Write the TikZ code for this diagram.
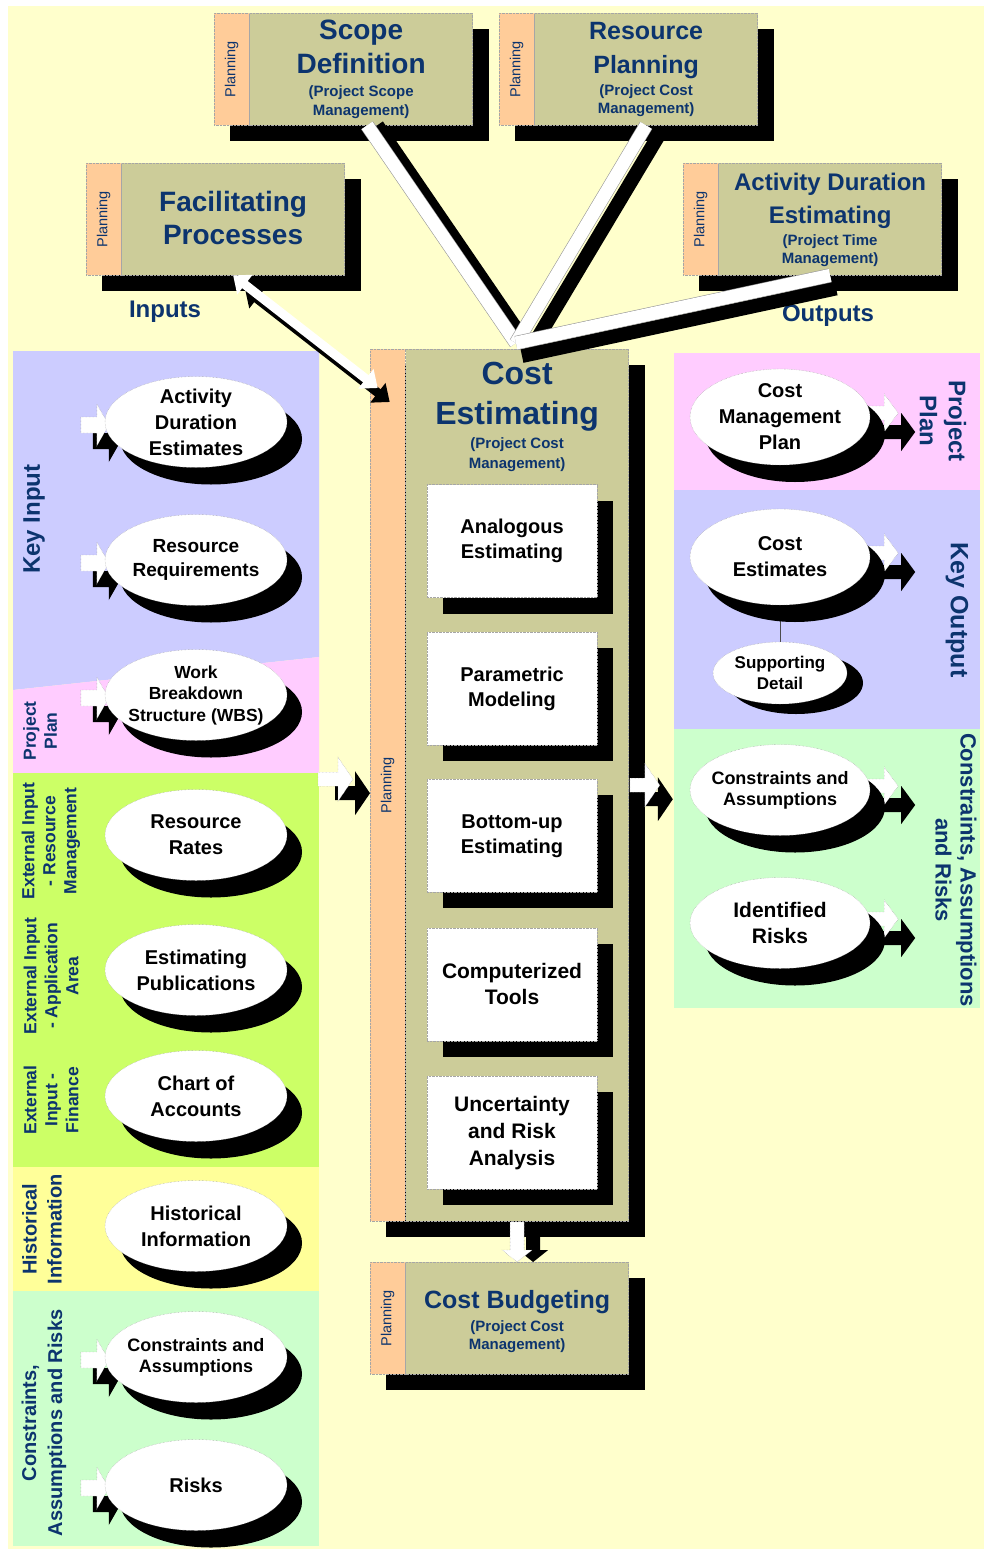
\documentclass[tikz,border=0pt]{standalone}
\usepackage{fontspec}
\setmainfont{Liberation Sans}
\usetikzlibrary{positioning,shapes.geometric,shadows,arrows.meta}

\definecolor{paper}{RGB}{255,255,204}
\definecolor{olive}{RGB}{204,204,153}
\definecolor{salmon}{RGB}{255,204,153}
\definecolor{lilac}{RGB}{204,204,255}
\definecolor{rose}{RGB}{255,204,255}
\definecolor{lime}{RGB}{204,255,102}
\definecolor{lemon}{RGB}{255,255,153}
\definecolor{mint}{RGB}{204,255,204}
\definecolor{navy}{RGB}{12,52,110}

\pgfdeclarelayer{bg}
\pgfdeclarelayer{back}
\pgfsetlayers{bg,back,main}

\tikzset{
  blk/.style={general shadow={fill=black, shadow xshift=16pt, shadow yshift=-16pt}},
  tab/.style={fill=salmon, draw=black!35, densely dotted, minimum width=35pt, minimum height=112pt,
    inner sep=0pt, text=navy, font=\fontsize{14.5}{16}\selectfont},
  procbox/.style={fill=olive, draw=black!35, densely dotted, minimum width=223pt, minimum height=112pt,
    inner sep=0pt},
  ttl/.style={text=navy, font=\bfseries\fontsize{28}{34}\selectfont, align=center, inner sep=0pt},
  sub/.style={text=navy, font=\bfseries\fontsize{15}{19}\selectfont, align=center, inner sep=0pt},
  method/.style={fill=white, draw=black!35, densely dotted, minimum width=170pt, minimum height=113pt,
    inner sep=0pt, align=center, font=\bfseries\fontsize{20}{25}\selectfont, blk},
  ovalbase/.style={ellipse, fill=white, draw=black!40, densely dotted, minimum width=182pt,
    minimum height=91pt, inner xsep=-15pt, inner ysep=-6pt, align=center,
    font=\bfseries\fontsize{20}{26}\selectfont},
  oval/.style={ovalbase, general shadow={fill=black, shadow xshift=15pt, shadow yshift=-17pt}},
  sidelbl/.style={text=navy, font=\bfseries\fontsize{17.5}{21}\selectfont, align=center, inner sep=0pt},
  arrowbody/.style={fill=white, draw=black!40, densely dotted},
  dropped/.style={arrowbody/.style={fill=black}, shift={(#1)}},
  pics/fatarrow/.style args={#1/#2/#3/#4}{code={
    \path[arrowbody] (-#1,-#2) -- (-#3,-#2) -- (-#3,-#4) -- (0,0) -- (-#3,#4) -- (-#3,#2) -- (-#1,#2) -- cycle;
  }},
  band/.style={draw=black!40, line width=0.6pt, double=white, double distance=13pt},
  bandshade/.style={black, line width=14pt, transform canvas={shift={(#1)}}},
  twoway/.style={white, line width=9pt, arrows={Triangle[width=24pt,length=15pt]-Triangle[width=24pt,length=15pt]}},
}

\begin{document}
\begin{tikzpicture}[x=1pt, y=-1pt]
\useasboundingbox (0,0) rectangle (984,1549);

% coloured panels
\begin{pgfonlayer}{bg}
  \fill[paper] (8,6) rectangle (984,1549);
  \fill[lilac] (13,351) -- (319,351) -- (319,657) -- (13,690) -- cycle;
  \fill[rose] (13,690) -- (319,657) -- (319,773) -- (13,773) -- cycle;
  \fill[lime] (13,773) rectangle (319,1167);
  \fill[lemon] (13,1167) rectangle (319,1291);
  \fill[mint] (13,1291) rectangle (319,1546);
  \fill[rose] (674,353) rectangle (980,490);
  \fill[lilac] (674,490) rectangle (980,729);
  \fill[mint] (674,729) rectangle (980,1008);
\end{pgfonlayer}

% panel labels
\node[sidelbl, rotate=90, font=\bfseries\fontsize{24}{28}\selectfont] (keyin) at (34,519) {Key Input};
\node[sidelbl, rotate=90] (planin) at (40,731) {Project\\Plan};
\node[sidelbl, rotate=90] (extres) at (51,841) {External Input\\- Resource\\Management};
\node[sidelbl, rotate=90] (extapp) at (51,976) {External Input\\- Application\\Area};
\node[sidelbl, rotate=90] (extfin) at (51,1100) {External\\Input -\\Finance};
\node[sidelbl, rotate=90, font=\bfseries\fontsize{20}{25}\selectfont] (histin) at (42,1229) {Historical\\Information};
\node[sidelbl, rotate=90, font=\bfseries\fontsize{20}{26}\selectfont] (riskin) at (44,1423) {Constraints,\\Assumptions and Risks};
\node[sidelbl, rotate=-90, font=\bfseries\fontsize{24}{29}\selectfont] (planout) at (943,421) {Project\\Plan};
\node[sidelbl, rotate=-90, font=\bfseries\fontsize{25}{29}\selectfont] (keyout) at (957,610) {Key Output};
\node[sidelbl, rotate=-90, font=\bfseries\fontsize{22}{25}\selectfont] (riskout) at (956,870) {Constraints, Assumptions\\and Risks};
\node[sidelbl, font=\bfseries\fontsize{24}{28}\selectfont] (inlbl) at (165,312) {Inputs};
\node[sidelbl, font=\bfseries\fontsize{24}{28}\selectfont] (outlbl) at (828,316) {Outputs};

% neighbouring processes
\node[tab, anchor=north west] (sctab) at (214,13) {\rotatebox{90}{Planning}};
\node[procbox, right=0pt of sctab] (scope) {};
\node[ttl, below=7pt of scope.north] (scopettl) {Scope\\Definition};
\node[sub, below=11pt of scopettl] (scopesub) {(Project Scope\\Management)};

\node[tab, anchor=north west] (rptab) at (499,13) {\rotatebox{90}{Planning}};
\node[procbox, right=0pt of rptab] (resplan) {};
\node[ttl, font=\bfseries\fontsize{25}{34}\selectfont, below=9pt of resplan.north] (resplanttl) {Resource\\Planning};
\node[sub, font=\bfseries\fontsize{15}{18}\selectfont, below=6pt of resplanttl] (resplansub) {(Project Cost\\Management)};

\node[tab, anchor=north west] (fptab) at (86,163) {\rotatebox{90}{Planning}};
\node[procbox, right=0pt of fptab] (facil) {};
\node[ttl, font=\bfseries\fontsize{28}{33}\selectfont, below=28pt of facil.north] (facilttl) {Facilitating\\Processes};

\node[tab, anchor=north west] (adtab) at (683,163) {\rotatebox{90}{Planning}};
\node[procbox, right=0pt of adtab] (actdur) {};
\node[ttl, font=\bfseries\fontsize{24}{33}\selectfont, below=10pt of actdur.north] (actdurttl) {Activity Duration\\Estimating};
\node[sub, font=\bfseries\fontsize{15}{18}\selectfont, below=6pt of actdurttl] (actdursub) {(Project Time\\Management)};

% cost estimating
\node[tab, anchor=north west, minimum height=872pt] (cetab) at (370,349) {\rotatebox{90}{Planning}};
\node[procbox, minimum height=872pt, right=0pt of cetab] (costest) {};
\node[ttl, font=\bfseries\fontsize{32}{40}\selectfont, below=13pt of costest.north] (costestttl) {Cost\\Estimating};
\node[sub, font=\bfseries\fontsize{15}{20}\selectfont, below=6pt of costestttl] (costestsub) {(Project Cost\\Management)};

\node[method] (analog) at (512,541) {Analogous\\Estimating};
\node[method, below=34pt of analog] (param) {Parametric\\Modeling};
\node[method, below=34pt of param] (bottomup) {Bottom-up\\Estimating};
\node[method, below=35pt of bottomup, font=\bfseries\fontsize{21}{26}\selectfont] (comptools) {Computerized\\Tools};
\node[method, below=35pt of comptools, font=\bfseries\fontsize{21}{27}\selectfont] (uncert) {Uncertainty\\and Risk\\Analysis};

% cost budgeting
\node[tab, anchor=north west] (cbtab) at (370,1262) {\rotatebox{90}{Planning}};
\node[procbox, right=0pt of cbtab] (costbud) {};
\node[ttl, font=\bfseries\fontsize{25}{30}\selectfont, below=28pt of costbud.north] (costbudttl) {Cost Budgeting};
\node[sub, font=\bfseries\fontsize{15}{18}\selectfont, below=7pt of costbudttl] (costbudsub) {(Project Cost\\Management)};

% inputs
\node[oval] (adest) at (196,422) {Activity\\Duration\\Estimates};
\node[oval, font=\bfseries\fontsize{19}{24}\selectfont] (resreq) at (196,560) {Resource\\Requirements};
\node[oval, font=\bfseries\fontsize{17.5}{21.5}\selectfont] (wbs) at (196,695) {Work\\Breakdown\\Structure (WBS)};
\node[oval] (resrates) at (196,835) {Resource\\Rates};
\node[oval] (estpub) at (196,970) {Estimating\\Publications};
\node[oval] (coa) at (196,1096) {Chart of\\Accounts};
\node[oval] (histinfo) at (196,1226) {Historical\\Information};
\node[oval, font=\bfseries\fontsize{18}{21}\selectfont] (conin) at (196,1357) {Constraints and\\Assumptions};
\node[oval] (risks) at (196,1485) {Risks};

% outputs
\node[oval, minimum width=180pt, minimum height=96pt] (cmplan) at (780,417) {Cost\\Management\\Plan};
\node[oval, minimum width=180pt, minimum height=96pt] (cestim) at (780,557) {Cost\\Estimates};
\node[ovalbase, minimum width=134pt, minimum height=62pt, font=\bfseries\fontsize{17}{21}\selectfont,
  general shadow={fill=black, shadow xshift=16pt, shadow yshift=-10pt}] (suppdet) at (780,673) {Supporting\\Detail};
\node[oval, minimum width=180pt, font=\bfseries\fontsize{18}{21}\selectfont] (conout) at (780,790) {Constraints and\\Assumptions};
\node[oval, minimum width=180pt, font=\bfseries\fontsize{21}{26}\selectfont] (idrisks) at (780,923) {Identified\\Risks};

\begin{pgfonlayer}{back}
  % box shadows
  \foreach \t/\b in {sctab/scope, rptab/resplan, fptab/facil, adtab/actdur, cetab/costest, cbtab/costbud}
    \fill[black] ([xshift=16pt,yshift=-16pt]\t.north west) rectangle ([xshift=16pt,yshift=-16pt]\b.south east);
  \foreach \n in {adest,resreq,wbs,conin,risks} {
    \pic[dropped={12pt,-16pt}] at ([xshift=4pt,yshift=-3pt]\n.west) {fatarrow=28/8/12/21};
    \pic at ([xshift=4pt,yshift=-3pt]\n.west) {fatarrow=28/8/12/21};
  }
  \foreach \n in {cmplan,cestim,conout,idrisks} {
    \pic[dropped={17pt,-19pt}] at ([xshift=28pt,yshift=4pt]\n.east) {fatarrow=40/7/14/19};
    \pic at ([xshift=28pt,yshift=4pt]\n.east) {fatarrow=40/7/14/19};
  }
  \draw[black!70, thin] (cestim.south) -- (suppdet.north);
\end{pgfonlayer}

% flows into and out of cost estimating
\pic[dropped={17pt,-14pt}] at ([xshift=-17pt,yshift=6pt]cetab.west) {fatarrow=35/7/15/22};
\pic at ([xshift=-17pt,yshift=6pt]cetab.west) {fatarrow=35/7/15/22};
\pic[dropped={13pt,-14pt}] at ([xshift=31pt]costest.east) {fatarrow=30/7/15/22};
\pic at ([xshift=31pt]costest.east) {fatarrow=30/7/15/22};
\pic[dropped={16pt,0pt}, rotate=-90] at (costbud.north) {fatarrow=40/7/12/15};
\pic[rotate=-90] at (costbud.north) {fatarrow=40/7/12/15};

% links between processes
\coordinate (hub) at (516,343);
\draw[bandshade={10pt,0pt}] ([xshift=6pt]scope.south) -- (hub);
\draw[bandshade={15pt,-6pt}] (resplan.south) -- (hub);
\draw[bandshade={6pt,-13pt}] (actdur.south) -- (hub);
\draw[twoway, black, transform canvas={shift={(12pt,-14pt)}}] (facil.south) -- ([xshift=-10pt,yshift=-39pt]cetab.north);
\draw[band] ([xshift=6pt]scope.south) -- (hub);
\draw[band] (resplan.south) -- (hub);
\draw[band] (actdur.south) -- (hub);
\draw[twoway] (facil.south) -- ([xshift=-10pt,yshift=-39pt]cetab.north);

\end{tikzpicture}
\end{document}
